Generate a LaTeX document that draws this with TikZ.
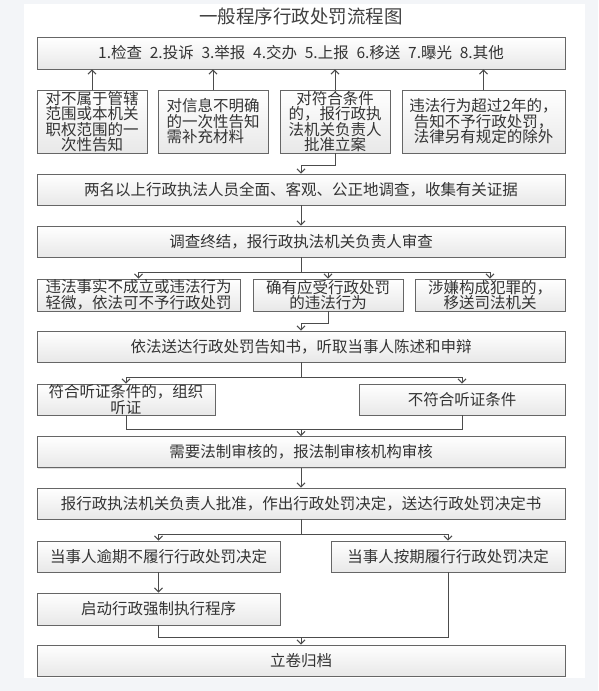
\documentclass[tikz,border=0pt]{standalone}
\usepackage{fontspec}
\newfontfamily\cjk{Noto Sans CJK SC}
\usetikzlibrary{arrows.meta,shadows}
\definecolor{bgcol}{HTML}{F3F5F8}

\begin{document}
\begin{tikzpicture}[x=1pt,y=-1pt,
	box/.style={draw=black!60,line width=.9pt,top color=white,bottom color=black!9,
		drop shadow={shadow xshift=1.3pt,shadow yshift=-1.3pt,opacity=.25},
		inner sep=0pt,minimum height=31pt,align=center,text=black!80,
		font=\cjk\fontsize{15.5}{15.5}\selectfont},
	wide/.style={box,minimum width=528pt},
	ln/.style={draw=black!70,line width=1pt},
	arr/.style={ln,-{Straight Barb[length=4pt,width=8pt]}}]
		\useasboundingbox (0,0) rectangle (598,691);
		\fill[bgcol] (0,0) rectangle (598,691);
		\fill[white] (24,4) rectangle (585,678);
		\node[text=black!75,font=\cjk\fontsize{18.5}{18.5}\selectfont] (title) at (301,16) {一般程序行政处罚流程图};
		\node[wide,minimum height=32pt] (src) at (301,53) {1.检查\enspace 2.投诉\enspace 3.举报\enspace 4.交办\enspace 5.上报\enspace 6.移送\enspace 7.曝光\enspace 8.其他};
		\node[box,minimum width=110pt,minimum height=63pt] (c1) at (92,121.5) {对不属于管辖\\范围或本机关\\职权范围的一\\次性告知};
		\node[box,minimum width=110pt,minimum height=63pt,align=left] (c2) at (213,121.5) {对信息不明确\\的一次性告知\\需补充材料};
		\node[box,minimum width=110pt,minimum height=63pt] (c3) at (335,121.5) {对符合条件\\的，报行政执\\法机关负责人\\批准立案};
		\node[box,minimum width=163pt,minimum height=63pt] (c4) at (483.5,121.5) {违法行为超过2年的，\\告知不予行政处罚，\\法律另有规定的除外};
		\node[wide] (b1) at (301,189.5) {两名以上行政执法人员全面、客观、公正地调查，收集有关证据};
		\node[wide] (b2) at (301,241.5) {调查终结，报行政执法机关负责人审查};
		\node[box,minimum width=203pt,minimum height=32pt] (d1) at (138.5,295) {违法事实不成立或违法行为\\轻微，依法可不予行政处罚};
		\node[box,minimum width=150pt,minimum height=32pt] (d2) at (328,295) {确有应受行政处罚\\的违法行为};
		\node[box,minimum width=150pt,minimum height=32pt] (d3) at (490,295) {涉嫌构成犯罪的，\\移送司法机关};
		\node[wide] (b3) at (301,346.5) {依法送达行政处罚告知书，听取当事人陈述和申辩};
		\node[box,minimum width=178pt] (e1) at (126,399.5) {符合听证条件的，组织\\听证};
		\node[box,minimum width=206pt] (e2) at (462,399.5) {不符合听证条件};
		\node[wide] (b4) at (301,452) {需要法制审核的，报法制审核机构审核};
		\node[wide] (b5) at (301,503.5) {报行政执法机关负责人批准，作出行政处罚决定，送达行政处罚决定书};
		\node[box,minimum width=243pt] (f1) at (158.5,556.5) {当事人逾期不履行行政处罚决定};
		\node[box,minimum width=234pt] (f2) at (448,556.5) {当事人按期履行行政处罚决定};
		\node[box,minimum width=243pt,minimum height=32pt] (g1) at (158.5,609) {启动行政强制执行程序};
		\node[wide] (b6) at (301,660.5) {立卷归档};
		\path (b2.south) ++(0,15) coordinate (j1)
		(b3.south) ++(0,15) coordinate (j2)
		(b4.north) ++(0,-7) coordinate (j3)
		(b5.south) ++(0,15) coordinate (j4)
		(b6.north) ++(0,-7) coordinate (j5);
		\foreach \n in {c1,c2,c3,c4} \draw[arr] (\n) -- (\n |- src.south);
		\foreach \a/\b in {b1/b2,b4/b5,f1/g1} \draw[arr] (\a) -- (\b);
		\draw[arr] (c3.south) -- ++(0,12) -| (b1);
		\draw[arr] (d2.south) -- ++(0,12) -| (b3);
		\draw[ln] (b2) -- (j1) (b3) -- (j2) (b5) -- (j4);
		\foreach \j/\n in {j1/d1,j1/d2,j1/d3,j2/e1,j2/e2,j4/f1,j4/f2} \draw[arr] (\j) -| (\n);
		\draw[ln] (e1) |- (j3) -| (e2) (g1) |- (j5) -| (f2);
		\foreach \j/\n in {j3/b4,j5/b6} \draw[arr] (\j) -- (\n);
	\end{tikzpicture}
\end{document}
